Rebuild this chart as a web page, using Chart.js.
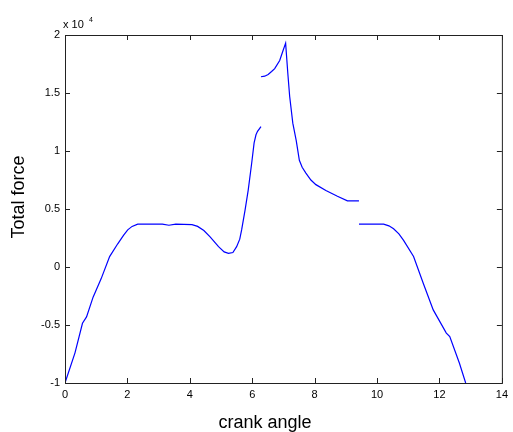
<!DOCTYPE html>
<html lang="en">
<head>
  <meta charset="UTF-8">
  <title>Total force vs crank angle</title>
  <script src="https://cdn.jsdelivr.net/npm/chart.js"></script>
  <style>
    body { margin: 0; background: #fff; }
    #wrap { width: 513px; height: 432px; }
  </style>
</head>
<body>
<div id="wrap"><canvas id="forceChart"></canvas></div>
<script>
    // crank angle (rad) and total force (N); null = break in the curve
    const angle = [0, 0.32, 0.56, 0.69, 0.9, 1.16, 1.43, 1.69, 1.88, 2.01, 2.15, 2.33, 2.8, 3.12, 3.33, 3.55, 4.07, 4.25, 4.45, 4.65, 4.92, 5.1, 5.24, 5.38, 5.5, 5.6, 5.66, 5.77, 5.87, 5.98, 6.06, 6.12, 6.17, 6.28,
                   6.28,
                   6.28, 6.4, 6.51, 6.62, 6.72, 6.88, 6.98, 7.07, 7.14, 7.2, 7.3, 7.41, 7.51, 7.6, 7.72, 7.88, 8.04, 8.36, 8.73, 9.05, 9.42,
                   9.42,
                   9.42, 10.21, 10.38, 10.53, 10.7, 10.85, 11.17, 11.48, 11.8, 12.22, 12.33, 12.64, 12.84];
    const force = [-10000, -7400, -4850, -4300, -2600, -1000, 900, 2000, 2750, 3200, 3500, 3700, 3700, 3700, 3600, 3700, 3650, 3500, 3150, 2600, 1750, 1300, 1180, 1250, 1750, 2400, 3200, 4900, 6600, 8900, 10700, 11400, 11700, 12100,
                   null,
                   16400, 16450, 16600, 16850, 17100, 17800, 18600, 19300, 16700, 14700, 12400, 10900, 9200, 8600, 8100, 7500, 7100, 6600, 6100, 5700, 5700,
                   null,
                   3700, 3700, 3550, 3300, 2850, 2300, 900, -1400, -3700, -5700, -6000, -8300, -10000];

    const xTicks = [0, 2, 4, 6, 8, 10, 12, 14];
    const yTicks = [-1, -0.5, 0, 0.5, 1, 1.5, 2];   // x 10^4

    const font = "'Liberation Sans', Arial, sans-serif";

    // MATLAB style box with inward ticks + labels
    const matlabAxes = {
        id: 'matlabAxes',
        afterDraw(chart) {
            const ctx = chart.ctx;
            const a = chart.chartArea;
            const sx = chart.scales.x, sy = chart.scales.y;
            ctx.save();
            ctx.strokeStyle = '#222';
            ctx.lineWidth = 1;
            ctx.strokeRect(a.left + 0.5, a.top + 0.5, a.right - a.left, a.bottom - a.top);
            ctx.beginPath();
            xTicks.forEach(v => {
                const px = Math.round(sx.getPixelForValue(v)) + 0.5;
                ctx.moveTo(px, a.bottom); ctx.lineTo(px, a.bottom - 5);
                ctx.moveTo(px, a.top); ctx.lineTo(px, a.top + 5);
            });
            yTicks.forEach(v => {
                const py = Math.round(sy.getPixelForValue(v * 1e4)) + 0.5;
                ctx.moveTo(a.left, py); ctx.lineTo(a.left + 5, py);
                ctx.moveTo(a.right, py); ctx.lineTo(a.right - 5, py);
            });
            ctx.stroke();

            ctx.fillStyle = '#000';
            // exponent
            ctx.font = '11px ' + font;
            ctx.textAlign = 'left';
            ctx.textBaseline = 'alphabetic';
            ctx.fillText('x 10', a.left - 2, a.top - 7);
            ctx.font = '7px ' + font;
            ctx.fillText('4', a.left + 24, a.top - 13);

            // axis labels
            ctx.font = '18px ' + font;
            ctx.textAlign = 'center';
            ctx.fillText('crank angle', 265, 428);
            ctx.translate(24, 197);
            ctx.rotate(-Math.PI / 2);
            ctx.fillText('Total force', 0, 0);
            ctx.restore();
        }
    };

    new Chart('forceChart', {
        type: 'line',
        data: {
            datasets: [{
                data: angle.map((x, i) => ({ x: x, y: force[i] })),
                borderColor: '#0000ff',
                borderWidth: 1.2,
                pointRadius: 0,
                tension: 0,
                spanGaps: false
            }]
        },
        options: {
            responsive: true,
            maintainAspectRatio: false,
            animation: false,
            layout: { padding: { top: 35, right: 7, left: 0, bottom: 0 } },
            plugins: { legend: { display: false }, tooltip: { enabled: false } },
            scales: {
                x: {
                    type: 'linear',
                    min: 0, max: 14,
                    afterFit: s => { s.height = 49; },
                    afterBuildTicks: s => { s.ticks = xTicks.map(v => ({ value: v })); },
                    grid: { display: false, drawTicks: false },
                    border: { display: false },
                    ticks: {
                        padding: 5, maxRotation: 0, autoSkip: false,
                        color: '#000', font: { family: font, size: 11 }
                    }
                },
                y: {
                    min: -10000, max: 20000,
                    afterFit: s => { s.width = 65; },
                    afterBuildTicks: s => { s.ticks = yTicks.map(v => ({ value: v * 1e4 })); },
                    grid: { display: false, drawTicks: false },
                    border: { display: false },
                    ticks: {
                        padding: 5, autoSkip: false,
                        color: '#000', font: { family: font, size: 11 },
                        callback: v => String(v / 1e4)
                    }
                }
            }
        },
        plugins: [matlabAxes]
    });
</script>
</body>
</html>
